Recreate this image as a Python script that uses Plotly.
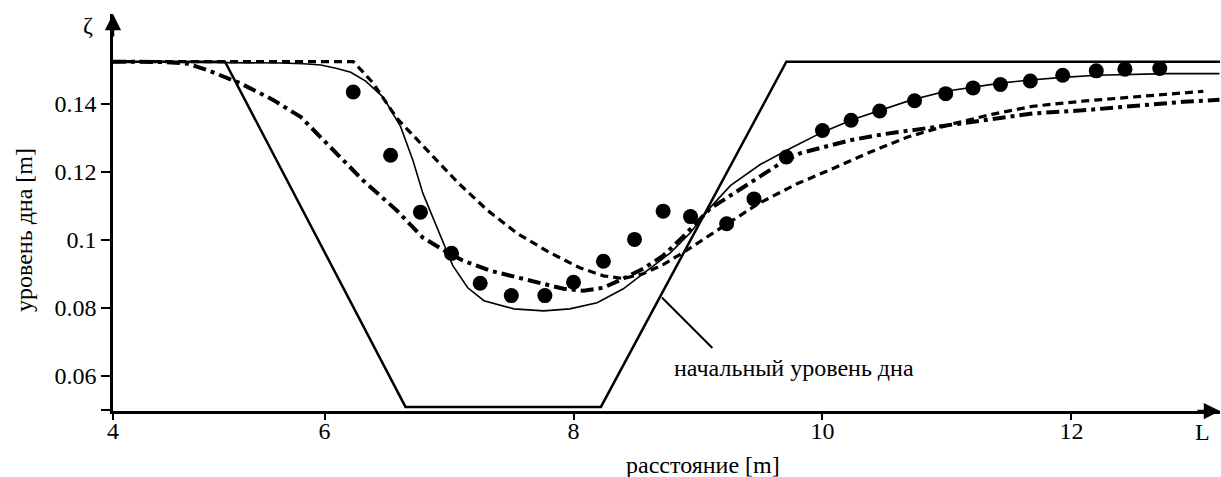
import plotly.graph_objects as go

# ---------------- data ----------------
# initial bed level
bed_x = [4.30, 5.20, 6.65, 8.22, 9.71, 13.2]
bed_y = [0.1523, 0.1523, 0.0509, 0.0509, 0.1523, 0.1523]

# thin solid model curve
solid_x = [4.30, 5.00, 5.64, 5.83, 5.97, 6.10, 6.21, 6.33, 6.47, 6.61, 6.71, 6.79,
           6.87, 6.95, 7.03, 7.15, 7.28, 7.52, 7.76, 7.97, 8.19, 8.40, 8.59, 8.78,
           8.94, 9.10, 9.26, 9.50, 9.74, 10.0, 10.25, 10.46, 10.71, 10.99, 11.21,
           11.43, 11.67, 11.93, 12.21, 12.47, 12.76, 13.19]
solid_y = [0.1523, 0.1522, 0.1519, 0.1517, 0.1513, 0.1503, 0.1492, 0.1466, 0.1419,
           0.1333, 0.1233, 0.1136, 0.1065, 0.0995, 0.0924, 0.0859, 0.0821, 0.0797,
           0.0791, 0.0797, 0.0815, 0.0856, 0.0909, 0.0962, 0.1021, 0.1095, 0.1159,
           0.1221, 0.1268, 0.1316, 0.1354, 0.1380, 0.1410, 0.1436, 0.1448, 0.1460,
           0.1469, 0.1477, 0.1483, 0.1486, 0.1488, 0.1488]

# short-dashed model curve
dash_x = [4.30, 6.23, 6.31, 6.39, 6.58, 6.79, 7.07, 7.31, 7.55, 7.81, 8.05, 8.24,
          8.40, 8.56, 8.72, 8.88, 8.99, 9.24, 9.50, 9.80, 10.09, 10.38, 10.68,
          11.03, 11.37, 11.69, 12.09, 12.37, 12.77, 13.06]
dash_y = [0.1523, 0.1523, 0.1492, 0.1460, 0.1357, 0.1277, 0.1168, 0.1086, 0.1018,
          0.0962, 0.0918, 0.0894, 0.0886, 0.0900, 0.0927, 0.0962, 0.0989, 0.1048,
          0.1109, 0.1165, 0.1210, 0.1257, 0.1301, 0.1339, 0.1369, 0.1392, 0.1407,
          0.1416, 0.1427, 0.1436]

# dash-dot model curve
dashdot_x = [4.30, 4.72, 4.90, 5.06, 5.32, 5.59, 5.81, 6.07, 6.31, 6.58, 6.79, 6.99,
             7.11, 7.33, 7.55, 7.73, 7.92, 8.08, 8.24, 8.40, 8.56, 8.72, 8.88, 9.10,
             9.26, 9.44, 9.66, 9.82, 10.0, 10.22, 10.49, 10.87, 11.29, 11.69, 12.09,
             12.37, 12.63, 12.90, 13.19]
dashdot_y = [0.1523, 0.1522, 0.1517, 0.1498, 0.1460, 0.1410, 0.1360, 0.1263, 0.1174,
             0.1086, 0.1006, 0.0962, 0.0939, 0.0909, 0.0889, 0.0871, 0.0856, 0.0850,
             0.0859, 0.0886, 0.0915, 0.0953, 0.1009, 0.1092, 0.1130, 0.1174, 0.1224,
             0.1254, 0.1271, 0.1292, 0.1310, 0.1330, 0.1351, 0.1371, 0.1380, 0.1389,
             0.1398, 0.1405, 0.1411]

# measured points
exp_x = [6.23, 6.53, 6.77, 7.02, 7.25, 7.50, 7.77, 8.00, 8.24, 8.49, 8.72, 8.94,
         9.23, 9.45, 9.71, 10.0, 10.23, 10.46, 10.74, 10.99, 11.21, 11.43, 11.67,
         11.93, 12.20, 12.43, 12.71]
exp_y = [0.1434, 0.1248, 0.1081, 0.0960, 0.0872, 0.0836, 0.0836, 0.0875, 0.0937,
         0.1001, 0.1084, 0.1068, 0.1047, 0.1120, 0.1243, 0.1321, 0.1351, 0.1378,
         0.1408, 0.1429, 0.1446, 0.1456, 0.1466, 0.1483, 0.1496, 0.1501, 0.1503]

x_tickvals = [4.30, 6, 8, 10, 12]
x_ticktext = ["4", "6", "8", "10", "12"]
y_tickvals = [0.05, 0.06, 0.08, 0.10, 0.12, 0.14]
y_ticktext = ["", "0.06", "0.08", "0.1", "0.12", "0.14"]

FONT = "Liberation Serif, Times New Roman, serif"

fig = go.Figure()
fig.add_trace(go.Scatter(x=bed_x, y=bed_y, mode="lines",
                         line=dict(color="black", width=2.5)))
fig.add_trace(go.Scatter(x=solid_x, y=solid_y, mode="lines",
                         line=dict(color="black", width=1.6)))
fig.add_trace(go.Scatter(x=dash_x, y=dash_y, mode="lines",
                         line=dict(color="black", width=3.2, dash="8px,5px")))
fig.add_trace(go.Scatter(x=dashdot_x, y=dashdot_y, mode="lines",
                         line=dict(color="black", width=4, dash="13px,5px,4px,5px")))
fig.add_trace(go.Scatter(x=exp_x, y=exp_y, mode="markers",
                         marker=dict(color="black", size=15, symbol="circle")))

fig.update_layout(
    width=1221, height=477,
    margin=dict(l=113, r=1, t=14, b=66),
    paper_bgcolor="white", plot_bgcolor="white",
    showlegend=False,
    font=dict(family=FONT, size=24, color="black"),
)
fig.update_xaxes(range=[4.30, 13.194], tickvals=x_tickvals, ticktext=x_ticktext,
                 showgrid=False, zeroline=False, showline=True, linecolor="black",
                 linewidth=2.5, ticks="outside", ticklen=6, tickwidth=2, tickcolor="black",
                 ticklabelstandoff=-10,
                 tickfont=dict(family=FONT, size=24, color="black"))
fig.update_yaxes(range=[0.0497, 0.1663], tickvals=y_tickvals, ticktext=y_ticktext,
                 showgrid=False, zeroline=False, showline=True, linecolor="black",
                 linewidth=2.5, ticks="outside", ticklen=9, tickwidth=2, tickcolor="black",
                 tickfont=dict(family=FONT, size=24, color="black"))

ann = []
# axis arrowheads
ann.append(dict(x=0, y=1, xref="paper", yref="paper", ax=0, ay=24, text="",
                showarrow=True, arrowhead=2, arrowsize=1.3, arrowwidth=2.5, arrowcolor="black"))
ann.append(dict(x=1, y=0, xref="paper", yref="paper", ax=-24, ay=0, text="",
                showarrow=True, arrowhead=2, arrowsize=1.3, arrowwidth=2.5, arrowcolor="black"))
# axis symbols
ann.append(dict(x=-0.0226, y=0.9723, xref="paper", yref="paper", text="ζ", showarrow=False,
                xanchor="center", yanchor="middle", font=dict(family=FONT, size=24)))
ann.append(dict(x=0.9846, y=-0.0529, xref="paper", yref="paper", text="L", showarrow=False,
                xanchor="center", yanchor="middle", font=dict(family=FONT, size=24)))
# axis titles
ann.append(dict(x=-0.0804, y=0.4559, xref="paper", yref="paper", text="уровень дна [m]",
                textangle=-90, showarrow=False, xanchor="center", yanchor="middle",
                font=dict(family=FONT, size=24)))
ann.append(dict(x=0.533, y=-0.135, xref="paper", yref="paper", text="расстояние [m]",
                showarrow=False, xanchor="center", yanchor="middle",
                font=dict(family=FONT, size=24)))
# leader line + label
ann.append(dict(x=8.71, y=0.08305, xref="x", yref="y", ax=52, ay=52, text="",
                showarrow=True, arrowhead=0, arrowwidth=2, arrowcolor="black"))
ann.append(dict(x=8.79, y=0.0624, xref="x", yref="y", text="начальный уровень дна",
                showarrow=False, xanchor="left", yanchor="middle",
                font=dict(family=FONT, size=24)))
fig.update_layout(annotations=ann)

fig.write_html("out.html", config={"displayModeBar": False},
               post_script="document.body.style.margin='0';")
